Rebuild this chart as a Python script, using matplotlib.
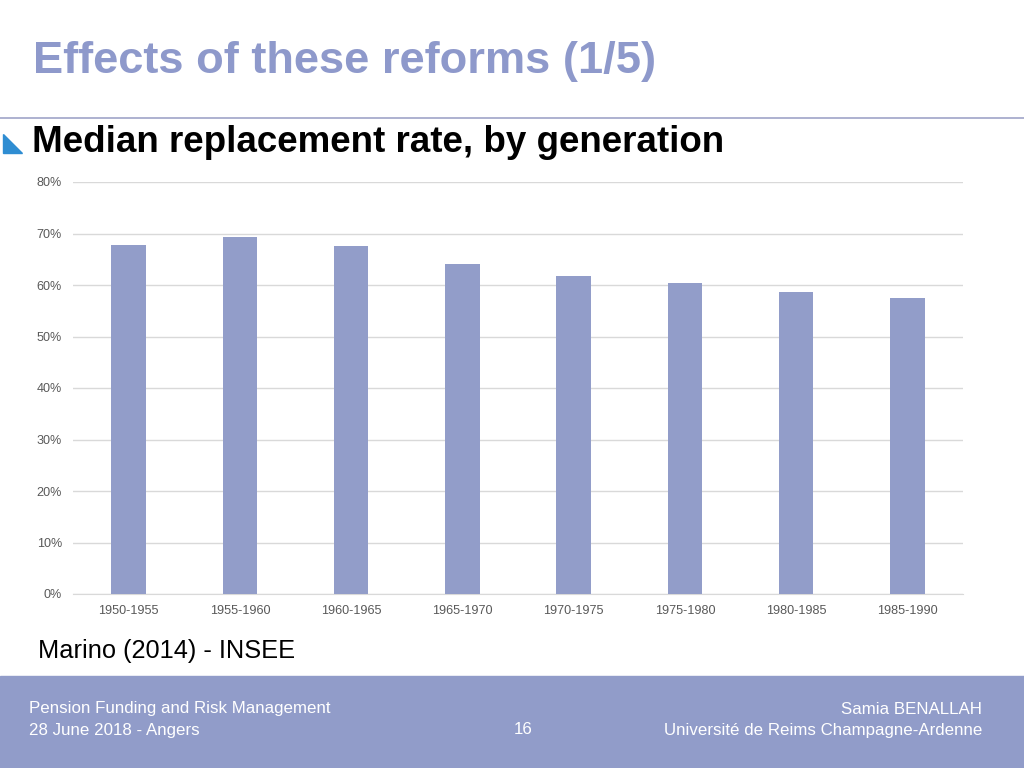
import numpy as np
import matplotlib
matplotlib.use("Agg")
import matplotlib.pyplot as plt
from matplotlib.patches import Polygon, Rectangle
from matplotlib.ticker import FuncFormatter

# data
generations = ["1950-1955", "1955-1960", "1960-1965", "1965-1970",
               "1970-1975", "1975-1980", "1980-1985", "1985-1990"]
replacement_rate = [67.8, 69.3, 67.6, 64.0, 61.8, 60.4, 58.6, 57.4]
y_ticks = [0, 10, 20, 30, 40, 50, 60, 70, 80]

BAR_COLOR = "#929dc9"
BAND_COLOR = "#919cc9"
TITLE_COLOR = "#8e99cb"

plt.rcParams["font.family"] = ["Liberation Sans", "DejaVu Sans"]

W, H = 1024, 768
fig = plt.figure(figsize=(W / 100, H / 100), dpi=100)

# slide decorations (pixel coords -> figure fraction)
def fx(x):
    return x / W

def fy(y):
    return 1 - y / H

fig.text(fx(33), fy(61), "Effects of these reforms (1/5)", fontsize=32.6,
         fontweight="bold", color=TITLE_COLOR, va="center", ha="left")
fig.add_artist(plt.Line2D([0, 1], [fy(118), fy(118)], color="#a0a4c8",
                          lw=1.2, transform=fig.transFigure))
fig.add_artist(Polygon([[fx(3), fy(134)], [fx(3), fy(153)], [fx(22), fy(153)]],
                       closed=True, color="#2f8dd2", transform=fig.transFigure))
fig.text(fx(32), fy(143), "Median replacement rate, by generation", fontsize=26.5,
         fontweight="bold", color="black", va="center", ha="left")
fig.text(fx(38), fy(651), "Marino (2014) - INSEE", fontsize=18.3,
         color="black", va="center", ha="left")

# footer band
fig.add_artist(Rectangle((0, 0), 1, fy(676), color=BAND_COLOR,
                         transform=fig.transFigure, zorder=0))
fig.text(fx(29), fy(709), "Pension Funding and Risk Management", fontsize=12.2,
         color="white", va="center", ha="left")
fig.text(fx(29), fy(730), "28 June 2018 - Angers", fontsize=12.2,
         color="white", va="center", ha="left")
fig.text(fx(523), fy(730), "16", fontsize=12.2, color="white", va="center", ha="center")
fig.text(fx(982), fy(709), "Samia BENALLAH", fontsize=12.2,
         color="white", va="center", ha="right")
fig.text(fx(982), fy(730), "Université de Reims Champagne-Ardenne", fontsize=12.2,
         color="white", va="center", ha="right")

# chart
ax = fig.add_axes([fx(73), fy(594), fx(963) - fx(73), fy(182) - fy(594)])
x = np.arange(len(generations))
ax.bar(x, replacement_rate, width=0.31, color=BAR_COLOR, zorder=3)
ax.set_xlim(-0.5, len(generations) - 0.5)
ax.set_ylim(0, 80)
ax.set_yticks(y_ticks)
ax.yaxis.set_major_formatter(FuncFormatter(lambda v, _: f"{v:.0f}%"))
ax.set_xticks(x)
ax.set_xticklabels(generations)
ax.grid(axis="y", color="#d9d9d9", lw=1, zorder=0)
for side in ["top", "right", "left"]:
    ax.spines[side].set_visible(False)
ax.spines["bottom"].set_color("#d9d9d9")
ax.tick_params(axis="both", length=0, labelsize=9.1, labelcolor="#595959")
ax.tick_params(axis="y", pad=8)
ax.tick_params(axis="x", pad=8)

fig.savefig("out.png", dpi=100)
